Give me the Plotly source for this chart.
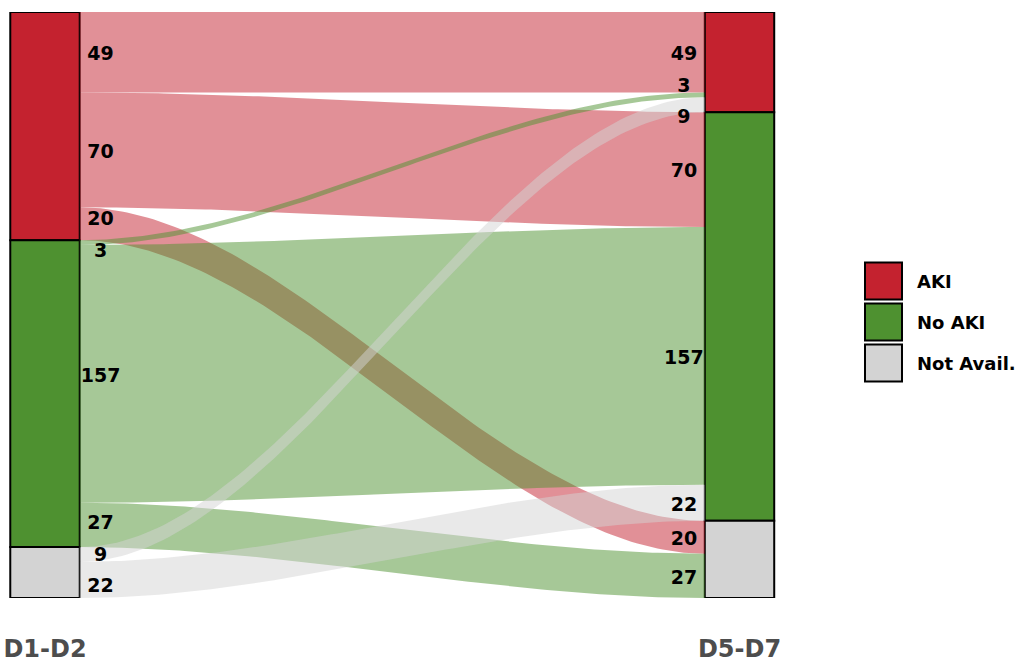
import numpy as np
import plotly.graph_objects as go

# ---------------- data ----------------
stages = ["D1-D2", "D5-D7"]
categories = ["AKI", "No AKI", "Not Avail."]
stratum_colors = ["#C4222F", "#4E9130", "#D3D3D3"]

flow_from = ["AKI", "AKI", "AKI", "No AKI", "No AKI", "No AKI", "Not Avail.", "Not Avail."]
flow_to = ["AKI", "No AKI", "Not Avail.", "AKI", "No AKI", "Not Avail.", "AKI", "No AKI"]
flow_n = [49, 70, 20, 3, 157, 27, 9, 22]

# ---------------- geometry from data ----------------
W = 1018
H = 660
total = sum(flow_n)
cidx = {c: i for i, c in enumerate(categories)}
nflow = len(flow_n)
X_L, X_R = 1.0, 2.0
BW = 0.1


def hex_rgba(h, a):
    h = h.lstrip("#")
    r, g, b = int(h[0:2], 16), int(h[2:4], 16), int(h[4:6], 16)
    return f"rgba({r},{g},{b},{a})"


def stack(order):
    top = {}
    bot = {}
    cum = 0
    for i in order:
        top[i] = total - cum
        cum += flow_n[i]
        bot[i] = total - cum
    return top, bot


left_order = sorted(range(nflow), key=lambda i: (cidx[flow_from[i]], cidx[flow_to[i]]))
right_order = sorted(range(nflow), key=lambda i: (cidx[flow_to[i]], cidx[flow_from[i]]))
L_top, L_bot = stack(left_order)
R_top, R_bot = stack(right_order)

left_sums = [sum(n for f, n in zip(flow_from, flow_n) if f == c) for c in categories]
right_sums = [sum(n for t, n in zip(flow_to, flow_n) if t == c) for c in categories]

fig = go.Figure()

# flows (drawn first, by origin stratum)
xs = np.linspace(X_L + BW / 2, X_R - BW / 2, 120)
t = (xs - xs[0]) / (xs[-1] - xs[0])
s = 3 * t ** 2 - 2 * t ** 3
for i in range(nflow):
    upper = L_top[i] + (R_top[i] - L_top[i]) * s
    lower = L_bot[i] + (R_bot[i] - L_bot[i]) * s
    px = np.concatenate([xs, xs[::-1]])
    py = np.concatenate([upper, lower[::-1]])
    col = stratum_colors[cidx[flow_from[i]]]
    fig.add_trace(go.Scatter(x=px, y=py, mode="lines", fill="toself",
                             fillcolor=hex_rgba(col, 0.5), line=dict(width=0),
                             hoverinfo="skip", showlegend=False))

# strata
cumL = 0
cumR = 0
for c, col, ls, rs in zip(categories, stratum_colors, left_sums, right_sums):
    fig.add_trace(go.Bar(x=[X_L, X_R], y=[ls, rs],
                         base=[total - cumL - ls, total - cumR - rs],
                         width=BW, marker=dict(color=col, line=dict(color="black", width=2)),
                         name=c, showlegend=False))
    cumL += ls
    cumR += rs


# labels with simple repulsion
def repel(pos, d, iters=300):
    order = sorted(range(len(pos)), key=lambda k: -pos[k])
    ys = [pos[k] for k in order]
    for _ in range(iters):
        for k in range(len(ys) - 1):
            gap = ys[k] - ys[k + 1]
            if gap < d:
                sh = (d - gap) / 2
                ys[k] += sh
                ys[k + 1] -= sh
    out = [0] * len(pos)
    for k, o in enumerate(order):
        out[o] = ys[k]
    return out


MIN_SEP = 19.2
LABEL_DY = 1.8  # small vertical nudge so text sits centred on its band
left_mid = [(L_top[i] + L_bot[i]) / 2 for i in range(nflow)]
right_mid = [(R_top[i] + R_bot[i]) / 2 for i in range(nflow)]
left_lab = [v - LABEL_DY for v in repel(left_mid, MIN_SEP)]
right_lab = [v - LABEL_DY for v in repel(right_mid, MIN_SEP)]

lab_font = dict(family="DejaVu Sans", size=19, color="black", weight="bold")
fig.add_trace(go.Scatter(x=[X_L + 0.08] * nflow, y=left_lab, mode="text",
                         text=[str(v) for v in flow_n], textposition="middle center",
                         textfont=lab_font, showlegend=False, hoverinfo="skip"))
fig.add_trace(go.Scatter(x=[X_R - 0.08] * nflow, y=right_lab, mode="text",
                         text=[str(v) for v in flow_n], textposition="middle center",
                         textfont=lab_font, showlegend=False, hoverinfo="skip"))

# legend as a small separate subplot
leg_y = list(range(len(categories)))
fig.add_trace(go.Scatter(x=[0] * len(categories), y=leg_y, mode="markers",
                         marker=dict(symbol="square", size=37, color=stratum_colors,
                                     line=dict(color="black", width=2)),
                         xaxis="x2", yaxis="y2", showlegend=False, hoverinfo="skip"))
fig.add_trace(go.Scatter(x=[1] * len(categories), y=[v + 0.05 for v in leg_y], mode="text",
                         text=categories, textposition="middle right",
                         textfont=dict(family="DejaVu Sans", size=18, color="black", weight="bold"),
                         xaxis="x2", yaxis="y2", showlegend=False, hoverinfo="skip"))

# ---------------- layout ----------------
px_per_x = 694.5
plot_w = 800
x0 = X_L - 45 / px_per_x
y_top_px, y_bot_px = 12, 598

leg_px_per_x = 33.5
leg_x0 = -43.5 / leg_px_per_x
leg_px_per_y = 41
leg_ytop = 0 - 281 / leg_px_per_y

fig.update_layout(
    width=W, height=H,
    margin=dict(l=0, r=0, t=0, b=0),
    paper_bgcolor="white", plot_bgcolor="white",
    barmode="overlay",
    xaxis=dict(domain=[0, plot_w / W], range=[x0, x0 + plot_w / px_per_x],
               tickvals=[X_L, X_R], ticktext=stages, showgrid=False, zeroline=False,
               showline=False, ticks="outside", ticklen=29, tickcolor="rgba(0,0,0,0)",
               automargin=False,
               tickfont=dict(family="DejaVu Sans", size=24, color="#4D4D4D", weight="bold")),
    yaxis=dict(domain=[(H - y_bot_px) / H, (H - y_top_px) / H], range=[0, total],
               showgrid=False, zeroline=False, showline=False, showticklabels=False, ticks="",
               automargin=False),
    xaxis2=dict(domain=[840 / W, 1], range=[leg_x0, leg_x0 + (W - 840) / leg_px_per_x],
                visible=False, anchor="y2", automargin=False),
    yaxis2=dict(domain=[0, 1], range=[leg_ytop + H / leg_px_per_y, leg_ytop],
                visible=False, anchor="x2", automargin=False),
    font=dict(family="DejaVu Sans"),
)

fig.write_html(
    "out.html",
    config={"displayModeBar": False},
    post_script="document.body.style.margin='0';document.body.style.overflow='hidden';",
)
